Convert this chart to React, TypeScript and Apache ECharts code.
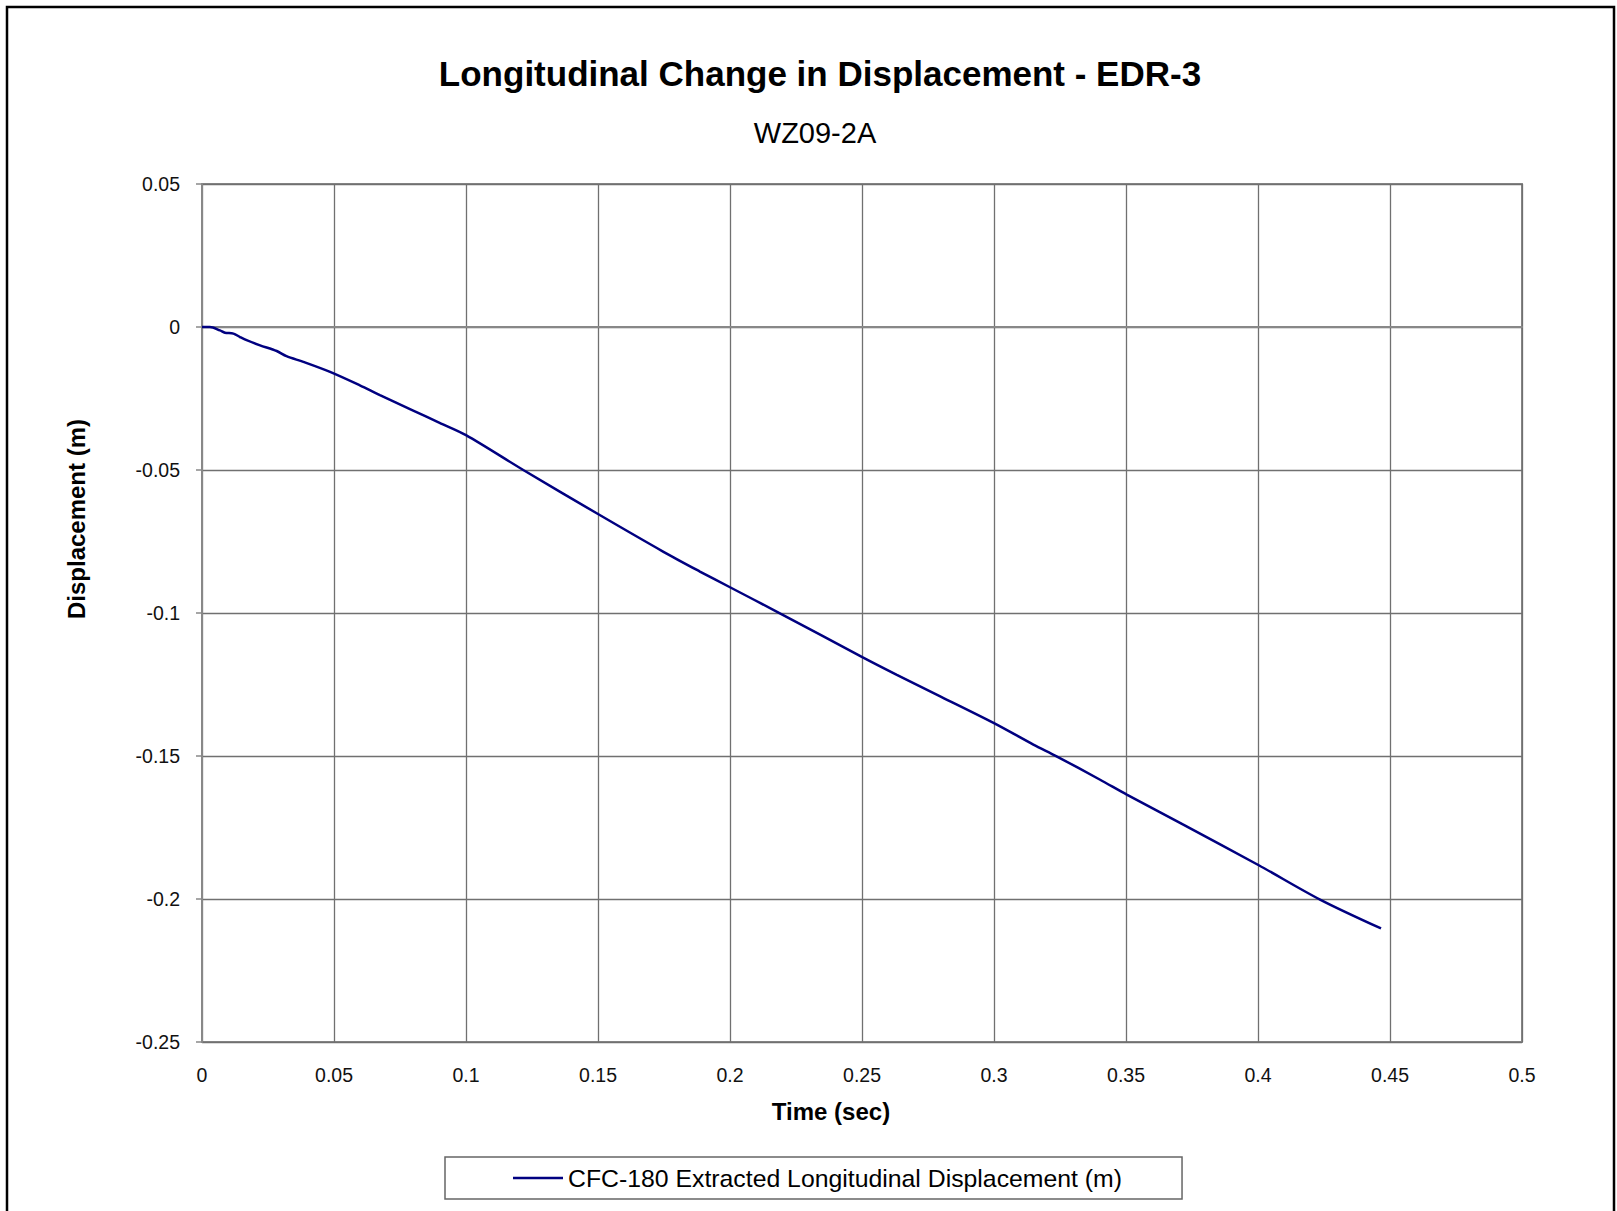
import React, { useEffect, useRef } from "react";
import * as echarts from "echarts";

const titleText = "Longitudinal Change in Displacement - EDR-3";
const subtitleText = "WZ09-2A";
const seriesName = "CFC-180 Extracted Longitudinal Displacement (m)";
const xAxisName = "Time (sec)";
const yAxisName = "Displacement (m)";

const timeSec = [
  0, 0.003, 0.0068, 0.0087, 0.0119, 0.0144, 0.0169, 0.022, 0.0283, 0.032,
  0.0384, 0.0485, 0.0598, 0.0674, 0.08, 0.09, 0.1, 0.1217, 0.15, 0.1748,
  0.1886, 0.2, 0.2189, 0.2501, 0.2632, 0.28, 0.3, 0.3149, 0.3237, 0.3402,
  0.3503, 0.3717, 0.4003, 0.4235, 0.4466,
];
const displacement = [
  0, 0, -0.0012, -0.002, -0.0023, -0.0035, -0.0046, -0.0064, -0.0084, -0.0102,
  -0.0122, -0.0157, -0.0204, -0.0238, -0.0292, -0.0335, -0.0378, -0.05, -0.0654, -0.0786,
  -0.0855, -0.091, -0.1001, -0.1154, -0.1216, -0.1293, -0.1385, -0.146, -0.1501, -0.1583,
  -0.1635, -0.174, -0.1882, -0.2002, -0.2103,
];

const FONT = "'Liberation Sans', Arial, sans-serif";

export default function App() {
  const ref = useRef<HTMLDivElement>(null);
  useEffect(() => {
    if (!ref.current) return;
    const chart = echarts.init(ref.current, undefined, { renderer: "svg" });
    const data = timeSec.map((t, i) => [t, displacement[i]]);
    chart.setOption({
      animation: false,
      backgroundColor: "#ffffff",
      textStyle: { fontFamily: FONT },
      title: [
        {
          text: titleText,
          left: 815,
          top: 51,
          textAlign: "center",
          textStyle: { fontFamily: FONT, fontSize: 35, fontWeight: "bold", color: "#000" },
        },
        {
          text: subtitleText,
          left: 810,
          top: 113,
          textAlign: "center",
          textStyle: { fontFamily: FONT, fontSize: 29, fontWeight: "normal", color: "#000" },
        },
      ],
      grid: {
        left: 202,
        top: 184,
        right: 95,
        bottom: 169,
        show: true,
        borderColor: "#888888",
        borderWidth: 2,
      },
      legend: {
        left: 445,
        top: 1157,
        orient: "horizontal",
        data: [{ name: seriesName, icon: "rect" }],
        itemWidth: 50,
        itemHeight: 2.5,
        itemGap: 0,
        padding: [7, 60, 7, 68],
        borderColor: "#666666",
        borderWidth: 1.5,
        textStyle: { fontFamily: FONT, fontSize: 24.8, color: "#000", lineHeight: 28, padding: [0, 0, 0, 0] },
      },
      xAxis: {
        type: "value",
        min: 0,
        max: 0.5,
        interval: 0.05,
        axisLine: { show: true, lineStyle: { color: "#888888", width: 2 } },
        axisTick: { show: false },
        axisLabel: {
          margin: 23,
          fontFamily: FONT,
          fontSize: 19.5,
          color: "#111",
          formatter: (v: number) => String(Math.round(v * 100) / 100),
        },
        splitLine: { show: true, lineStyle: { color: "#707070", width: 1.3 } },
      },
      yAxis: {
        type: "value",
        min: -0.25,
        max: 0.05,
        interval: 0.05,
        axisLine: { show: true, lineStyle: { color: "#888888", width: 2 } },
        axisTick: { show: true, inside: false, length: 6, lineStyle: { color: "#888888", width: 1.5 } },
        axisLabel: {
          margin: 22,
          fontFamily: FONT,
          fontSize: 19.5,
          color: "#111",
          formatter: (v: number) => String(Math.round(v * 100) / 100),
        },
        splitLine: { show: true, lineStyle: { color: "#707070", width: 1.3 } },
      },
      graphic: [
        {
          type: "rect",
          shape: { x: 7, y: 7, width: 1607, height: 1230 },
          style: { fill: "none", stroke: "#000", lineWidth: 2.5 },
          silent: true,
          z: 100,
        },
        {
          type: "text",
          x: 831,
          y: 1111,
          style: {
            text: xAxisName,
            fontFamily: FONT,
            fontSize: 24,
            fontWeight: "bold",
            fill: "#000",
            textAlign: "center",
            textVerticalAlign: "middle",
          },
          silent: true,
        },
        {
          type: "text",
          x: 76,
          y: 519,
          rotation: Math.PI / 2,
          style: {
            text: yAxisName,
            fontFamily: FONT,
            fontSize: 24,
            fontWeight: "bold",
            fill: "#000",
            textAlign: "center",
            textVerticalAlign: "middle",
          },
          silent: true,
        },
      ],
      series: [
        {
          name: seriesName,
          type: "line",
          data,
          showSymbol: false,
          symbol: "none",
          smooth: 0.3,
          lineStyle: { color: "#000080", width: 2.5 },
          itemStyle: { color: "#000080" },
        },
      ],
    });
    return () => chart.dispose();
  }, []);
  return (
    <div
      ref={ref}
      style={{ position: "fixed", left: 0, top: 0, width: 1617, height: 1211, background: "#fff" }}
    />
  );
}
